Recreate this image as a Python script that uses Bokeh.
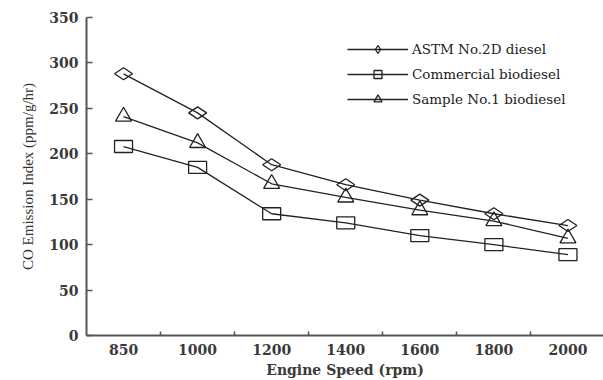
import math
from bokeh.plotting import figure
from bokeh.models import (Range1d, FixedTicker, Legend, LegendItem, ColumnDataSource)
from bokeh.embed import file_html
from bokeh.resources import INLINE

speeds = ["850", "1000", "1200", "1400", "1600", "1800", "2000"]
astm = [288, 245, 188, 166, 149, 134, 121]
commercial = [208, 185, 134, 124, 110, 100, 89]
sample1 = [241, 212, 167, 152, 138, 126, 107]
y_ticks = [0, 50, 100, 150, 200, 250, 300, 350]

xpos = [i + 0.5 for i in range(len(speeds))]

p = figure(width=603, height=380, output_backend="svg", toolbar_location=None,
           x_range=Range1d(0, 6.98), y_range=Range1d(0, 350),
           min_border_left=86, min_border_right=0, min_border_top=17,
           min_border_bottom=45)
p.outline_line_color = None
p.xgrid.visible = False
p.ygrid.visible = False
p.background_fill_color = "white"
p.border_fill_color = "white"

INK = "#222222"
AX = "#555555"

src = ColumnDataSource(dict(x=xpos, astm=astm, com=commercial, s1=sample1))

l1 = p.line("x", "astm", source=src, line_color=INK, line_width=1.3)
l2 = p.line("x", "com", source=src, line_color=INK, line_width=1.3)
l3 = p.line("x", "s1", source=src, line_color=INK, line_width=1.3)

p.scatter("x", "astm", source=src, marker="diamond", size=18, angle=math.pi / 2,
          fill_color=None, line_color=INK, line_width=1.3)
p.rect("x", "com", source=src, width=18, height=12, width_units="screen",
       height_units="screen", fill_color=None, line_color=INK, line_width=1.3)
p.scatter("x", "s1", source=src, marker="triangle", size=16,
          fill_color=None, line_color=INK, line_width=1.3)

# legend-only marker renderers (hidden in the plot)
m1 = p.scatter("x", "astm", source=src, marker="diamond", size=10, angle=math.pi / 2,
               fill_color=None, line_color=INK, line_width=1.3, visible=False)
m2 = p.scatter("x", "com", source=src, marker="square", size=10,
               fill_color=None, line_color=INK, line_width=1.3, visible=False)
m3 = p.scatter("x", "s1", source=src, marker="triangle", size=11,
               fill_color=None, line_color=INK, line_width=1.3, visible=False)

legend = Legend(items=[
    LegendItem(label="ASTM No.2D diesel", renderers=[l1, m1]),
    LegendItem(label="Commercial biodiesel", renderers=[l2, m2]),
    LegendItem(label="Sample No.1 biodiesel", renderers=[l3, m3]),
], location=(261, 226))
legend.border_line_color = None
legend.background_fill_alpha = 0
legend.padding = 0
legend.margin = 0
legend.spacing = 5
legend.glyph_width = 61
legend.glyph_height = 20
legend.label_height = 20
legend.label_standoff = 4
legend.label_text_font = "DejaVu Serif"
legend.label_text_font_size = "13.5px"
legend.label_text_color = INK
p.add_layout(legend)

# x axis
xa = p.xaxis[0]
xa.ticker = FixedTicker(ticks=xpos, minor_ticks=[1, 2, 3, 4, 5, 6])
xa.major_label_overrides = {xpos[i]: speeds[i] for i in range(len(speeds))}
xa.major_tick_in = 0
xa.major_tick_out = 0
xa.minor_tick_in = 4
xa.minor_tick_out = 0
xa.minor_tick_line_color = AX
xa.minor_tick_line_width = 1.5
xa.axis_line_color = AX
xa.axis_line_width = 2
xa.major_label_text_font = "DejaVu Serif"
xa.major_label_text_font_size = "14px"
xa.major_label_text_font_style = "bold"
xa.major_label_text_color = "#3a3a3a"
xa.major_label_standoff = 8
xa.axis_label = "Engine Speed (rpm)"
xa.axis_label_text_font = "DejaVu Serif"
xa.axis_label_text_font_size = "14px"
xa.axis_label_text_font_style = "bold"
xa.axis_label_text_color = "#3a3a3a"
xa.axis_label_standoff = 4

# y axis
ya = p.yaxis[0]
ya.ticker = FixedTicker(ticks=y_ticks, minor_ticks=[])
ya.major_tick_in = 6
ya.major_tick_out = 0
ya.major_tick_line_color = AX
ya.major_tick_line_width = 1.5
ya.axis_line_color = AX
ya.axis_line_width = 2
ya.major_label_text_font = "DejaVu Serif"
ya.major_label_text_font_size = "14px"
ya.major_label_text_font_style = "bold"
ya.major_label_text_color = "#3a3a3a"
ya.major_label_standoff = 8
ya.axis_label = "CO Emission Index (ppm/g/hr)"
ya.axis_label_text_font = "Liberation Serif"
ya.axis_label_text_font_size = "15px"
ya.axis_label_text_font_style = "normal"
ya.axis_label_text_color = "#333333"
ya.axis_label_standoff = 10

open("out.html", "w").write(file_html(p, INLINE))
